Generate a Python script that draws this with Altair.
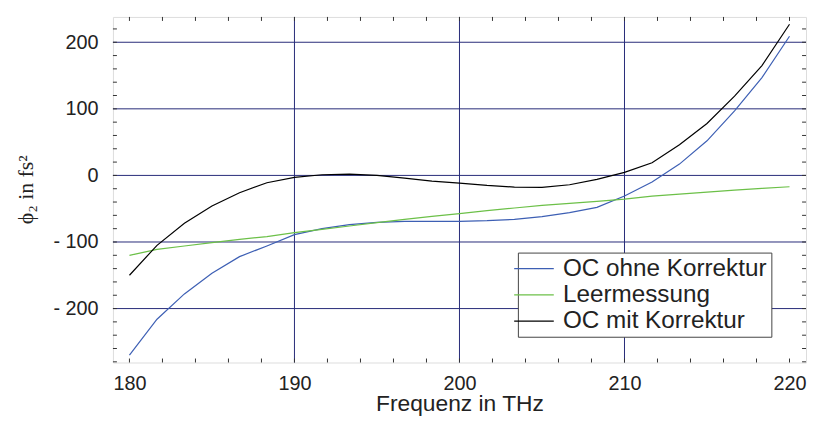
import altair as alt
import pandas as pd

# ---- data ----
freq = [180.0, 181.67, 183.33, 185.0, 186.67, 188.33, 190.0, 191.67, 193.33, 195.0,
        196.67, 198.33, 200.0, 201.67, 203.33, 205.0, 206.67, 208.33, 210.0, 211.67,
        213.33, 215.0, 216.67, 218.33, 220.0]
oc_ohne = [-270, -216, -178, -147, -122, -106, -89, -80, -74, -70.5,
           -69, -69, -69, -68, -66, -62, -56, -48, -31, -10,
           17, 52, 97, 147, 209]
leer = [-120, -111, -106, -101, -96, -92, -86, -81, -76, -71,
        -66, -61.5, -57.5, -53, -49, -45, -42, -39, -35.5, -31,
        -28, -25, -22, -19.5, -17]
oc_mit = [-150, -105, -72, -46, -26, -11, -3, 1, 2, 0,
          -4, -8.5, -11.5, -15, -17.5, -18, -14, -6, 4.5, 19,
          46, 78, 119, 165, 227]

series_names = ["OC ohne Korrektur", "Leermessung", "OC mit Korrektur"]
series_colors = ["#3d5fb4", "#6cc048", "#000000"]

x_labels = [180, 190, 200, 210, 220]
y_labels = [-200, -100, 0, 100, 200]
x_grid = [190, 200, 210]
y_grid = [-200, -100, 0, 100, 200]
x_minor = list(range(180, 221, 2))
y_minor = list(range(-280, 221, 20))

X_DOMAIN = [179, 221]
Y_DOMAIN = [-281, 238]
W, H = 700, 349
GRID = "#262a78"

rows = []
for name, vals in zip(series_names, [oc_ohne, leer, oc_mit]):
    for f, v in zip(freq, vals):
        rows.append({"f": f, "v": v, "series": name})
df = pd.DataFrame(rows)

xs = alt.Scale(domain=X_DOMAIN, nice=False, zero=False)
ys = alt.Scale(domain=Y_DOMAIN, nice=False, zero=False)

x_axis = alt.Axis(values=x_labels, grid=False, ticks=False, domain=False,
                  labelFontSize=20, labelFont="Liberation Sans", labelColor="#222",
                  labelPadding=11, title="Frequenz in THz", titleFontSize=23,
                  titleFont="Liberation Sans", titleFontWeight="normal", titleColor="#222",
                  titleY=48, titleBaseline="alphabetic")
y_axis = alt.Axis(values=y_labels, grid=False, ticks=False, domain=False,
                  labelFontSize=20, labelFont="Liberation Sans", labelColor="#222",
                  labelPadding=15,
                  labelExpr="datum.value < 0 ? '- ' + abs(datum.value) : datum.label",
                  title="ϕ₂ in fs²", titleFont="Liberation Serif", titleFontSize=22,
                  titleFontWeight="normal", titleColor="#222", titleAngle=270,
                  titleX=-88, titleY=174, titleAlign="center", titleBaseline="middle")


def X(field):
    return alt.X(field, scale=xs, axis=x_axis)


def Y(field):
    return alt.Y(field, scale=ys, axis=y_axis)


# grid lines
hgrid = alt.Chart(pd.DataFrame({"y": y_grid})).mark_rule(color=GRID, strokeWidth=1).encode(
    y=Y("y:Q"))
vgrid = alt.Chart(pd.DataFrame({"x": x_grid})).mark_rule(color=GRID, strokeWidth=1).encode(
    x=X("x:Q"))

# inward minor ticks
xt = pd.DataFrame({"x": x_minor})
yt = pd.DataFrame({"y": y_minor})
tick_style = dict(color="#333", strokeWidth=1)
t_bottom = alt.Chart(xt).mark_rule(**tick_style).encode(
    x=X("x:Q"), y=alt.value(H), y2=alt.value(H - 4))
t_top = alt.Chart(xt).mark_rule(**tick_style).encode(
    x=X("x:Q"), y=alt.value(0), y2=alt.value(4))
t_left = alt.Chart(yt).mark_rule(**tick_style).encode(
    y=Y("y:Q"), x=alt.value(0), x2=alt.value(4))
t_right = alt.Chart(yt).mark_rule(**tick_style).encode(
    y=Y("y:Q"), x=alt.value(W), x2=alt.value(W - 4))

lines = alt.Chart(df).mark_line(strokeWidth=1.2).encode(
    x=X("f:Q"),
    y=Y("v:Q"),
    color=alt.Color("series:N",
                    scale=alt.Scale(domain=series_names, range=series_colors),
                    sort=series_names,
                    legend=alt.Legend(title=None, orient="none", legendX=409, legendY=238,
                                      strokeColor="#444", fillColor="white", padding=4,
                                      symbolType="M-2,0L2,0", symbolSize=400,
                                      symbolStrokeWidth=1.2, labelFontSize=24.5,
                                      labelFont="Liberation Sans", labelColor="#222",
                                      labelOffset=17, rowPadding=1.5, labelLimit=400)),
    order=alt.Order("f:Q"),
)

chart = alt.layer(hgrid, vgrid, t_bottom, t_top, t_left, t_right, lines).properties(
    width=W, height=H,
    autosize=alt.AutoSizeParams(type="none"),
    padding={"left": 106, "top": 7, "right": 1, "bottom": 52},
).configure_view(stroke="#333", strokeWidth=1).configure(background="white")

chart.save("out.html", embed_options={"renderer": "svg", "actions": False})
